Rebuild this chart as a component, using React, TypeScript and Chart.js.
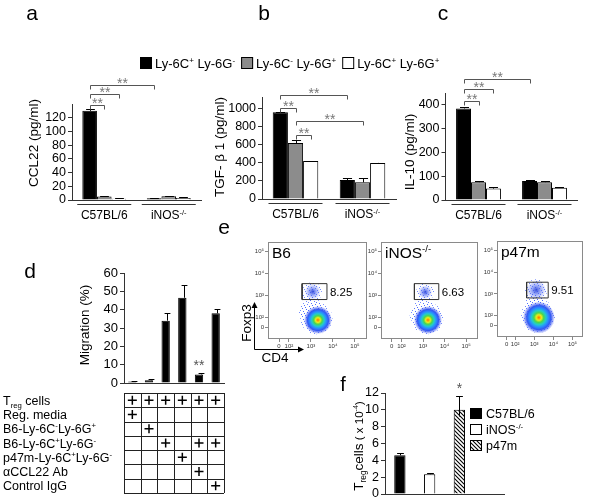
import React, { useEffect, useRef } from 'react';
import { Chart, registerables } from 'chart.js';

Chart.register(...registerables);

const FONT = '"Liberation Sans", Arial, Helvetica, sans-serif';
const W = 600;
const H = 520;

// ---------------- data: panels a-c ----------------
const groupLabels = ['C57BL/6', 'iNOS^{-/-}'];
const subsetLabels = ['Ly-6C^{+} Ly-6G^{-}', 'Ly-6C^{-} Ly-6G^{+}', 'Ly-6C^{+} Ly-6G^{+}'];
const subsetColors = ['#000000', '#8c8c8c', '#ffffff'];

const ccl22CposGneg = [130, 2.5];
const ccl22CnegGpos = [5, 5.5];
const ccl22CposGpos = [2, 3];
const ccl22ErrCposGneg = [2.5, 0.8];
const ccl22ErrCnegGpos = [1, 1];
const ccl22ErrCposGpos = [0.5, 0.8];
const ccl22Ticks = [0, 20, 40, 60, 80, 100, 120];
const ccl22Max = 140;
// [fromGroup, fromSubset, toGroup, toSubset, level]
const ccl22Sig = [[0, 0, 0, 1, 139], [0, 0, 0, 2, 154], [0, 0, 1, 0, 167]];

const tgfCposGneg = [960, 210];
const tgfCnegGpos = [620, 185];
const tgfCposGpos = [420, 400];
const tgfErrCposGneg = [6, 25];
const tgfErrCnegGpos = [35, 45];
const tgfErrCposGpos = [5, 4];
const tgfTicks = [0, 200, 400, 600, 800, 1000];
const tgfMax = 1130;
const tgfSig = [[0, 0, 1, 0, 1155], [0, 0, 0, 1, 1011], [0, 1, 1, 1, 867], [0, 1, 0, 2, 711]];

const il10CposGneg = [385, 80];
const il10CnegGpos = [75, 75];
const il10CposGpos = [48, 52];
const il10ErrCposGneg = [8, 4];
const il10ErrCnegGpos = [3, 3];
const il10ErrCposGpos = [5, 2];
const il10Ticks = [0, 100, 200, 300, 400];
const il10Max = 450;
const il10Sig = [[0, 0, 1, 0, 509], [0, 0, 0, 2, 467], [0, 0, 0, 1, 417]];

// ---------------- data: panel d ----------------
const migrationConditions = ['c1', 'c2', 'c3', 'c4', 'c5', 'c6'];
const migration = [0.8, 1.5, 34, 46.5, 4.7, 38];
const migrationErr = [0.4, 0.8, 4, 7, 1, 2.5];
const migrationSig = ['', '', '', '', '**', ''];
const migrationTicks = [0, 10, 20, 30, 40, 50, 60];
const migrationMax = 60;
const tableRows = [
  'T_{reg} cells',
  'Reg. media',
  'B6-Ly-6C^{-}Ly-6G^{+}',
  'B6-Ly-6C^{+}Ly-6G^{-}',
  'p47m-Ly-6C^{+}Ly-6G^{-}',
  'αCCL22 Ab',
  'Control IgG',
];
const tableMarks = [
  [1, 1, 1, 1, 1, 1],
  [1, 0, 0, 0, 0, 0],
  [0, 1, 0, 0, 0, 0],
  [0, 0, 1, 0, 1, 1],
  [0, 0, 0, 1, 0, 0],
  [0, 0, 0, 0, 1, 0],
  [0, 0, 0, 0, 0, 1],
];

// ---------------- data: panel e (flow plots, log decades) ----------------
const flowSamples = ['B6', 'iNOS^{-/-}', 'p47m'];
const flowGatePct = ['8.25', '6.63', '9.51'];
const flowGates = [
  [2.6, 3.73, 2.81, 3.54],
  [2.6, 3.73, 2.81, 3.54],
  [2.6, 3.73, 2.81, 3.54],
];
const flowTickVals = [1.55, 2, 3, 4, 5];
const flowTickText = ['0', '10²', '10³', '10⁴', '10⁵'];
const flowSparse = [
  [{ x: 3.25, y: 1.95, r: 16 }, { x: 3.0, y: 2.5, r: 10 }, { x: 3.05, y: 3.15, r: 10 }, { x: 2.8, y: 2.2, r: 8 }],
  [{ x: 3.2, y: 1.95, r: 16 }, { x: 3.0, y: 2.5, r: 9 }, { x: 3.1, y: 3.15, r: 9 }, { x: 2.75, y: 2.1, r: 8 }],
  [{ x: 3.2, y: 1.98, r: 17 }, { x: 3.05, y: 2.55, r: 10 }, { x: 3.1, y: 3.17, r: 11 }],
];
const flowGatePop = [
  [{ x: 3.08, y: 3.17, r: 8 }],
  [{ x: 3.1, y: 3.15, r: 7 }],
  [{ x: 3.1, y: 3.18, r: 10 }],
];
const flowCore = [
  [{ x: 3.32, y: 1.87, r: 14 }],
  [{ x: 3.23, y: 1.87, r: 14 }],
  [{ x: 3.24, y: 1.9, r: 16 }],
];

// ---------------- data: panel f ----------------
const tregGroups = ['C57BL/6', 'iNOS^{-/-}', 'p47m'];
const tregCells = [4.6, 2.35, 10];
const tregErr = [0.3, 0.1, 1.6];
const tregSig = ['', '', '*'];
const tregTicks = [0, 2, 4, 6, 8, 10, 12];
const tregMax = 12;

// ---------------- rich text helpers ----------------
type Seg = { t: string; k: number };
function parseRich(s: string): Seg[] {
  const out: Seg[] = [];
  let i = 0;
  let buf = '';
  while (i < s.length) {
    const c = s[i];
    if ((c === '^' || c === '_') && s[i + 1] === '{') {
      if (buf) { out.push({ t: buf, k: 0 }); buf = ''; }
      const end = s.indexOf('}', i + 2);
      out.push({ t: s.slice(i + 2, end), k: c === '^' ? 1 : -1 });
      i = end + 1;
    } else { buf += c; i++; }
  }
  if (buf) out.push({ t: buf, k: 0 });
  return out;
}
const fontStr = (size: number) => `normal normal ${size}px ${FONT}`;

function drawParts(ctx: CanvasRenderingContext2D, parts: [string, number][], x: number, y: number, align: string, color = '#000') {
  const items: { t: string; sz: number; dy: number }[] = [];
  let maxSize = 0;
  parts.forEach(([s, size]) => {
    maxSize = Math.max(maxSize, size);
    parseRich(s).forEach((g) => {
      const sz = g.k ? size * 0.62 : size;
      const dy = g.k === 1 ? -size * 0.38 : g.k === -1 ? size * 0.24 : 0;
      items.push({ t: g.t, sz, dy });
    });
  });
  let w = 0;
  items.forEach((it) => { ctx.font = fontStr(it.sz); w += ctx.measureText(it.t).width; });
  let cx = align === 'left' ? x : align === 'center' ? x - w / 2 : x - w;
  const base = y + maxSize * 0.36;
  ctx.save();
  ctx.fillStyle = color;
  ctx.textAlign = 'left';
  ctx.textBaseline = 'alphabetic';
  items.forEach((it) => {
    ctx.font = fontStr(it.sz);
    ctx.fillText(it.t, cx, base + it.dy);
    cx += ctx.measureText(it.t).width;
  });
  ctx.restore();
  return w;
}
const drawRich = (ctx: CanvasRenderingContext2D, s: string, x: number, y: number, size: number, align = 'left', color = '#000') =>
  drawParts(ctx, [[s, size]], x, y, align, color);
function drawRot(ctx: CanvasRenderingContext2D, parts: [string, number][], x: number, y: number, color = '#000') {
  ctx.save();
  ctx.translate(x, y);
  ctx.rotate(-Math.PI / 2);
  drawParts(ctx, parts, 0, 0, 'center', color);
  ctx.restore();
}
function letter(ctx: CanvasRenderingContext2D, s: string, x: number, baseline: number, size = 21) {
  ctx.save();
  ctx.font = fontStr(size);
  ctx.fillStyle = '#000';
  ctx.textAlign = 'center';
  ctx.textBaseline = 'alphabetic';
  ctx.fillText(s, x, baseline);
  ctx.restore();
}
function seg(ctx: CanvasRenderingContext2D, pts: number[][], color = '#000', lw = 1) {
  ctx.save();
  ctx.strokeStyle = color;
  ctx.lineWidth = lw;
  ctx.beginPath();
  pts.forEach(([px, py], i) => (i ? ctx.lineTo(px, py) : ctx.moveTo(px, py)));
  ctx.stroke();
  ctx.restore();
}
function errBar(ctx: CanvasRenderingContext2D, x: number, y0: number, y1: number, half: number) {
  const xx = Math.round(x) + 0.5;
  const yt = Math.round(y1) + 0.5;
  seg(ctx, [[xx, y0], [xx, yt]]);
  seg(ctx, [[xx - half, yt], [xx + half, yt]]);
}
function stars(ctx: CanvasRenderingContext2D, s: string, x: number, y: number, size = 14, color = '#777') {
  ctx.save();
  ctx.font = fontStr(size);
  ctx.fillStyle = color;
  ctx.textAlign = 'center';
  ctx.textBaseline = 'alphabetic';
  ctx.fillText(s, x, y + size * 0.27);
  ctx.restore();
}

// ---------------- axis helpers ----------------
type Area = { l: number; t: number; r: number; b: number };
const pad = (a: Area, axw: number, axh: number) => ({ left: a.l - axw, top: a.t, right: W - a.r, bottom: H - a.b - axh });

function valueAxis(max: number, ticks: number[], axw: number, size = 12.5) {
  return {
    min: 0,
    max,
    afterBuildTicks: (s: any) => { s.ticks = ticks.map((v) => ({ value: v })); },
    ticks: { font: { family: FONT, size }, color: '#000', padding: 2, autoSkip: false, callback: (v: any) => String(v) },
    grid: { display: true, drawOnChartArea: false, drawTicks: true, tickLength: 4, color: '#333' },
    border: { display: true, color: '#333', width: 1 },
    afterFit: (s: any) => { s.width = axw; },
  };
}
function catAxis(axh: number) {
  return {
    ticks: { display: false },
    grid: { display: false },
    border: { display: true, color: '#333', width: 1 },
    afterFit: (s: any) => { s.height = axh; },
  };
}
const baseOpts = { responsive: false, animation: false as const, devicePixelRatio: 1, events: [] as any[] };
const noPlug = { legend: { display: false }, tooltip: { enabled: false } };

// ---------------- panels a-c ----------------
type CytoSpec = {
  letter: string; letterPos: number[]; area: Area; max: number; ticks: number[];
  series: number[][]; errors: number[][]; sig: number[][]; title: string; titlePos: number[]; legend?: boolean;
};
const panelA: CytoSpec = {
  letter: 'a', letterPos: [32, 19.5], area: { l: 72, t: 104, r: 201, b: 200 }, max: ccl22Max, ticks: ccl22Ticks,
  series: [ccl22CposGneg, ccl22CnegGpos, ccl22CposGpos], errors: [ccl22ErrCposGneg, ccl22ErrCnegGpos, ccl22ErrCposGpos],
  sig: ccl22Sig, title: 'CCL22 (pg/ml)', titlePos: [33, 143],
};
const panelB: CytoSpec = {
  letter: 'b', letterPos: [264, 19.5], area: { l: 262, t: 97, r: 396, b: 199 }, max: tgfMax, ticks: tgfTicks,
  series: [tgfCposGneg, tgfCnegGpos, tgfCposGpos], errors: [tgfErrCposGneg, tgfErrCnegGpos, tgfErrCposGpos],
  sig: tgfSig, title: 'TGF- β 1 (pg/ml)', titlePos: [219, 147], legend: true,
};
const panelC: CytoSpec = {
  letter: 'c', letterPos: [443, 19.5], area: { l: 445.5, t: 93, r: 577.5, b: 200 }, max: il10Max, ticks: il10Ticks,
  series: [il10CposGneg, il10CnegGpos, il10CposGpos], errors: [il10ErrCposGneg, il10ErrCnegGpos, il10ErrCposGpos],
  sig: il10Sig, title: 'IL-10 (pg/ml)', titlePos: [409, 152],
};

function makeCyto(canvas: HTMLCanvasElement, p: CytoSpec) {
  const AXW = 40;
  const AXH = 10;
  const plugin = {
    id: 'cytoDecor',
    afterDraw(chart: any) {
      const ctx = chart.ctx as CanvasRenderingContext2D;
      const ca = chart.chartArea;
      const xs = chart.scales.x;
      const ys = chart.scales.y;
      letter(ctx, p.letter, p.letterPos[0], p.letterPos[1]);
      drawRot(ctx, [[p.title, 13.5]], p.titlePos[0], p.titlePos[1]);
      groupLabels.forEach((g, i) => {
        const cx = xs.getPixelForValue(i);
        seg(ctx, [[cx - 27, ca.bottom + 4.5], [cx + 27, ca.bottom + 4.5]], '#333');
        drawRich(ctx, g, cx, ca.bottom + 15, 12, 'center');
      });
      chart.data.datasets.forEach((ds: any, di: number) => {
        const meta = chart.getDatasetMeta(di);
        p.errors[di].forEach((e, j) => {
          const el = meta.data[j];
          errBar(ctx, el.x, el.y, ys.getPixelForValue(ds.data[j] + e), el.width * 0.3);
        });
      });
      p.sig.forEach(([g1, s1, g2, s2, lvl]) => {
        const x1 = Math.round(chart.getDatasetMeta(s1).data[g1].x) + 0.5;
        const x2 = Math.round(chart.getDatasetMeta(s2).data[g2].x) + 0.5;
        const yy = Math.round(ys.getPixelForValue(lvl)) + 0.5;
        seg(ctx, [[x1, yy + 4], [x1, yy], [x2, yy], [x2, yy + 4]], '#555');
        stars(ctx, '**', (x1 + x2) / 2, yy - 1);
      });
      if (p.legend) {
        let lx = 140;
        subsetLabels.forEach((lab, i) => {
          ctx.save();
          ctx.fillStyle = subsetColors[i];
          ctx.fillRect(lx, 57, 12, 12);
          ctx.strokeStyle = '#000';
          ctx.lineWidth = 1;
          ctx.strokeRect(lx + 0.5, 57.5, 11, 11);
          ctx.restore();
          const w = drawRich(ctx, lab, lx + 15, 63, 13, 'left');
          lx += 15 + w + 6;
        });
      }
    },
  };
  return new Chart(canvas, {
    type: 'bar',
    data: {
      labels: groupLabels,
      datasets: p.series.map((d, i) => ({
        data: d, backgroundColor: subsetColors[i], borderColor: '#000', borderWidth: 1,
        barPercentage: 1, categoryPercentage: 0.68,
      })),
    },
    options: {
      ...baseOpts,
      layout: { padding: pad(p.area, AXW, AXH) },
      plugins: noPlug,
      scales: { x: catAxis(AXH), y: valueAxis(p.max, p.ticks, AXW) },
    } as any,
    plugins: [plugin],
  });
}

// ---------------- panel d ----------------
const areaD: Area = { l: 124, t: 273, r: 224, b: 383 };
const areaTable: Area = { l: 124, t: 393, r: 224, b: 493 };

function makeMigration(canvas: HTMLCanvasElement) {
  const AXW = 40;
  const AXH = 6;
  const plugin = {
    id: 'migDecor',
    afterDraw(chart: any) {
      const ctx = chart.ctx as CanvasRenderingContext2D;
      const ys = chart.scales.y;
      letter(ctx, 'd', 30, 278);
      drawRot(ctx, [['Migration (%)', 13.5]], 84, 325);
      const meta = chart.getDatasetMeta(0);
      migration.forEach((v, j) => {
        const el = meta.data[j];
        const top = ys.getPixelForValue(v + migrationErr[j]);
        errBar(ctx, el.x + el.width * 0.2, el.y, top, el.width * 0.35);
        if (migrationSig[j]) stars(ctx, migrationSig[j], el.x, top - 6, 14, '#555');
      });
    },
  };
  return new Chart(canvas, {
    type: 'bar',
    data: {
      labels: migrationConditions,
      datasets: [{ data: migration, backgroundColor: '#000', borderColor: '#000', borderWidth: 1, barPercentage: 0.5, categoryPercentage: 1 }],
    },
    options: {
      ...baseOpts,
      layout: { padding: pad(areaD, AXW, AXH) },
      plugins: noPlug,
      scales: { x: catAxis(AXH), y: valueAxis(migrationMax, migrationTicks, AXW, 13) },
    } as any,
    plugins: [plugin],
  });
}

function makeTable(canvas: HTMLCanvasElement) {
  const points: { x: string; y: string }[] = [];
  tableMarks.forEach((row, r) => row.forEach((m, c) => { if (m) points.push({ x: migrationConditions[c], y: tableRows[r] }); }));
  const plugin = {
    id: 'tableDecor',
    beforeDatasetsDraw(chart: any) {
      const ctx = chart.ctx as CanvasRenderingContext2D;
      const xs = chart.scales.x;
      const ys = chart.scales.y;
      const ca = chart.chartArea;
      for (let i = 0; i <= migrationConditions.length; i++) {
        const px = Math.round(xs.getPixelForValue(i - 0.5)) + 0.5;
        seg(ctx, [[px, ca.top], [px, ca.bottom]], '#222');
      }
      for (let i = 0; i <= tableRows.length; i++) {
        const py = Math.round(ys.getPixelForValue(i - 0.5)) + 0.5;
        seg(ctx, [[ca.left, py], [ca.right, py]], '#222');
      }
      tableRows.forEach((lab, i) => drawRich(ctx, lab, 3, ys.getPixelForValue(i), 12.5, 'left'));
    },
  };
  return new Chart(canvas, {
    type: 'scatter',
    data: {
      datasets: [{ data: points as any, pointStyle: 'cross', pointRadius: 4.5, borderColor: '#000', backgroundColor: '#000', borderWidth: 1.5 }],
    },
    options: {
      ...baseOpts,
      layout: { padding: pad(areaTable, 0, 0) },
      plugins: noPlug,
      scales: {
        x: { type: 'category', labels: migrationConditions, offset: true, ticks: { display: false }, grid: { display: false }, border: { display: false }, afterFit: (s: any) => { s.height = 0; } },
        y: { type: 'category', labels: tableRows, offset: true, ticks: { display: false }, grid: { display: false }, border: { display: false }, afterFit: (s: any) => { s.width = 0; } },
      },
    } as any,
    plugins: [plugin],
  });
}

// ---------------- panel e ----------------
const flowAreas: Area[] = [
  { l: 268, t: 242, r: 367, b: 339 },
  { l: 381, t: 242, r: 478, b: 339 },
  { l: 497, t: 241, r: 597, b: 337 },
];
const heatStops: [number, string][] = [
  [0, '#ff6a00'], [0.08, '#ffb000'], [0.17, '#e6ee22'], [0.3, '#4cd64a'], [0.45, '#22cccc'],
  [0.6, '#2a8cff'], [0.75, '#3358f2'], [0.9, 'rgba(60,85,240,0.4)'], [1, 'rgba(60,85,240,0)'],
];
const gatePopStops: [number, string][] = [[0, 'rgba(35,60,215,0.9)'], [0.45, 'rgba(60,90,240,0.5)'], [1, 'rgba(70,95,240,0)']];

function radialFill(stops: [number, string][]) {
  return (c: any) => {
    const raw = c.raw;
    if (!raw || !c.chart.scales || !c.chart.scales.x || !c.chart.scales.y) return 'rgba(40,70,235,0.5)';
    const px = c.chart.scales.x.getPixelForValue(raw.x);
    const py = c.chart.scales.y.getPixelForValue(raw.y);
    if (!Number.isFinite(px) || !Number.isFinite(py) || !Number.isFinite(raw.r)) return 'rgba(40,70,235,0.5)';
    const g = c.chart.ctx.createRadialGradient(px, py, 0, px, py, raw.r);
    stops.forEach(([o, col]) => g.addColorStop(o, col));
    return g;
  };
}
function makeSpeckle(ctx: CanvasRenderingContext2D) {
  const c = document.createElement('canvas');
  c.width = 8; c.height = 8;
  const g = c.getContext('2d')!;
  g.fillStyle = 'rgba(70,100,255,0.75)';
  [[0, 1], [3, 0], [6, 4], [2, 5], [5, 2], [7, 7], [1, 3], [4, 6]].forEach(([x, y]) => g.fillRect(x, y, 1, 1));
  return ctx.createPattern(c, 'repeat');
}
function flowAxis(min: number, max: number, fit: (s: any) => void) {
  return {
    type: 'linear', min, max,
    afterBuildTicks: (s: any) => { s.ticks = flowTickVals.map((v) => ({ value: v })); },
    ticks: { callback: (_v: any, i: number) => flowTickText[i], font: { family: FONT, size: 6 }, color: '#333', padding: 1, autoSkip: false, maxRotation: 0, minRotation: 0 },
    grid: { display: true, drawOnChartArea: false, tickLength: 3, color: '#888' },
    border: { display: false },
    afterFit: fit,
  };
}
function makeFlow(canvas: HTMLCanvasElement, i: number) {
  const AXW = 14;
  const AXH = 12;
  const ctx0 = canvas.getContext('2d')!;
  const speckle = makeSpeckle(ctx0);
  const g = flowGates[i];
  const plugin = {
    id: 'flowDecor',
    afterDraw(chart: any) {
      const ctx = chart.ctx as CanvasRenderingContext2D;
      const ca = chart.chartArea;
      const xs = chart.scales.x;
      const ys = chart.scales.y;
      ctx.save();
      ctx.strokeStyle = '#8a8a8a';
      ctx.lineWidth = 1;
      ctx.strokeRect(ca.left + 0.5, ca.top + 0.5, ca.right - ca.left - 1, ca.bottom - ca.top - 1);
      ctx.restore();
      drawRich(ctx, flowSamples[i], ca.left + 4, ca.top + 10, 15.5, 'left');
      drawRich(ctx, flowGatePct[i], xs.getPixelForValue(g[1]) + 3, ys.getPixelForValue((g[2] + g[3]) / 2), 11.5, 'left');
      if (i === 0) {
        letter(ctx, 'e', 224, 234);
        const ax = 254.5;
        const ay = 349.5;
        seg(ctx, [[ax, ay], [ax, 306]], '#000');
        seg(ctx, [[ax, ay], [300, ay]], '#000');
        ctx.save();
        ctx.fillStyle = '#000';
        ctx.beginPath(); ctx.moveTo(ax, 302); ctx.lineTo(ax - 3, 308); ctx.lineTo(ax + 3, 308); ctx.closePath(); ctx.fill();
        ctx.beginPath(); ctx.moveTo(304, ay); ctx.lineTo(298, ay - 3); ctx.lineTo(298, ay + 3); ctx.closePath(); ctx.fill();
        ctx.restore();
        drawRot(ctx, [['Foxp3', 13.5]], 246, 323);
        drawRich(ctx, 'CD4', 275, 357, 13.5, 'center');
      }
    },
  };
  return new Chart(canvas, {
    type: 'bubble',
    data: {
      datasets: [
        {
          type: 'line', data: [
            { x: g[0], y: g[2] }, { x: g[1], y: g[2] }, { x: g[1], y: g[3] }, { x: g[0], y: g[3] }, { x: g[0], y: g[2] },
          ], borderColor: '#333', borderWidth: 1, pointRadius: 0, fill: false, tension: 0, order: 0,
        } as any,
        { data: flowCore[i], backgroundColor: radialFill(heatStops), borderWidth: 0, order: 1 },
        { data: flowGatePop[i], backgroundColor: radialFill(gatePopStops), borderWidth: 0, order: 2 },
        { data: flowSparse[i], backgroundColor: speckle as any, borderWidth: 0, order: 3 },
      ],
    },
    options: {
      ...baseOpts,
      layout: { padding: pad(flowAreas[i], AXW, AXH) },
      plugins: noPlug,
      scales: {
        x: flowAxis(1.05, 5.55, (s: any) => { s.height = AXH; }),
        y: flowAxis(1.0, 5.45, (s: any) => { s.width = AXW; }),
      },
    } as any,
    plugins: [plugin],
  });
}

// ---------------- panel f ----------------
const areaF: Area = { l: 385, t: 393, r: 504, b: 494 };
function makeHatch(ctx: CanvasRenderingContext2D) {
  const c = document.createElement('canvas');
  c.width = 4; c.height = 4;
  const g = c.getContext('2d')!;
  g.fillStyle = '#ffffff';
  g.fillRect(0, 0, 4, 4);
  g.strokeStyle = '#000';
  g.lineWidth = 1.1;
  g.beginPath();
  g.moveTo(0, 0); g.lineTo(4, 4);
  g.moveTo(-1, 3); g.lineTo(1, 5);
  g.moveTo(3, -1); g.lineTo(5, 1);
  g.stroke();
  return ctx.createPattern(c, 'repeat');
}
function makeTreg(canvas: HTMLCanvasElement) {
  const AXW = 30;
  const AXH = 0;
  const hatch = makeHatch(canvas.getContext('2d')!);
  const fills: any[] = ['#000000', '#ffffff', hatch];
  const plugin = {
    id: 'tregDecor',
    afterDraw(chart: any) {
      const ctx = chart.ctx as CanvasRenderingContext2D;
      const ys = chart.scales.y;
      letter(ctx, 'f', 343, 391, 20);
      drawRot(ctx, [['T_{reg}cells', 13.5], [' ( x 10^{-4})', 11.5]], 358, 446);
      const meta = chart.getDatasetMeta(0);
      tregCells.forEach((v, j) => {
        const el = meta.data[j];
        const top = ys.getPixelForValue(v + tregErr[j]);
        const y0 = j === 2 ? ys.getPixelForValue(v - tregErr[j] * 0.5) : el.y;
        errBar(ctx, el.x, y0, top, el.width * 0.3);
        if (tregSig[j]) stars(ctx, tregSig[j], el.x, top - 7, 14, '#555');
      });
      tregGroups.forEach((lab, i) => {
        const yy = 408 + i * 16;
        ctx.save();
        ctx.fillStyle = fills[i];
        ctx.fillRect(470, yy, 12, 11);
        ctx.strokeStyle = '#000';
        ctx.lineWidth = 1;
        ctx.strokeRect(470.5, yy + 0.5, 11, 10);
        ctx.restore();
        drawRich(ctx, lab, 486, yy + 5.5, 12.5, 'left');
      });
    },
  };
  return new Chart(canvas, {
    type: 'bar',
    data: {
      labels: [...tregGroups, ' '],
      datasets: [{ data: [...tregCells, null], backgroundColor: [...fills, 'rgba(0,0,0,0)'], borderColor: '#000', borderWidth: 1, barPercentage: 0.38, categoryPercentage: 1 }],
    },
    options: {
      ...baseOpts,
      layout: { padding: pad(areaF, AXW, AXH) },
      plugins: noPlug,
      scales: { x: catAxis(AXH), y: valueAxis(tregMax, tregTicks, AXW, 12.5) },
    } as any,
    plugins: [plugin],
  });
}

// ---------------- components ----------------
function ChartCanvas({ make }: { make: (c: HTMLCanvasElement) => Chart }) {
  const ref = useRef<HTMLCanvasElement>(null);
  useEffect(() => {
    let chart: Chart | null = null;
    try {
      chart = make(ref.current!);
    } catch (e) {
      console.error(e);
    }
    return () => { if (chart) chart.destroy(); };
  }, []);
  return <canvas ref={ref} width={W} height={H} style={{ position: 'absolute', left: 0, top: 0, width: W, height: H }} />;
}

export default function App() {
  return (
    <div style={{ position: 'absolute', left: 0, top: 0, width: 600, height: 500, overflow: 'hidden', background: '#fff' }}>
      <ChartCanvas make={(c) => makeCyto(c, panelA)} />
      <ChartCanvas make={(c) => makeCyto(c, panelB)} />
      <ChartCanvas make={(c) => makeCyto(c, panelC)} />
      <ChartCanvas make={makeMigration} />
      <ChartCanvas make={makeTable} />
      <ChartCanvas make={(c) => makeFlow(c, 0)} />
      <ChartCanvas make={(c) => makeFlow(c, 1)} />
      <ChartCanvas make={(c) => makeFlow(c, 2)} />
      <ChartCanvas make={makeTreg} />
    </div>
  );
}
